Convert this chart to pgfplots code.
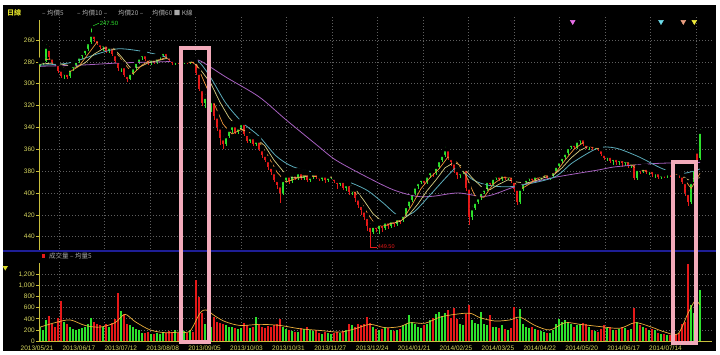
\documentclass[border=0pt]{standalone}
\usepackage{pgfplots}
\pgfplotsset{compat=1.18}
\usepackage{pgfplotstable}
\usepackage{fontspec}
\setmainfont{Liberation Sans}
\newfontfamily\cjk{Noto Sans CJK TC}

\definecolor{upred}{RGB}{230,25,25}
\definecolor{dngreen}{RGB}{45,225,45}
\definecolor{ma5}{RGB}{240,150,60}
\definecolor{ma10}{RGB}{215,205,130}
\definecolor{ma20}{RGB}{90,170,185}
\definecolor{ma60}{RGB}{165,95,190}
\definecolor{vma}{RGB}{235,175,60}
\definecolor{ylab}{RGB}{215,215,95}
\definecolor{yaxis}{RGB}{200,190,60}
\definecolor{gridc}{RGB}{95,95,95}
\definecolor{pinkbox}{RGB}{242,170,186}
\definecolor{sepblue}{RGB}{30,30,150}
\definecolor{legc}{RGB}{170,170,170}
\definecolor{trimag}{RGB}{230,110,230}
\definecolor{tricyan}{RGB}{110,220,235}
\definecolor{trisal}{RGB}{235,160,130}
\definecolor{triyel}{RGB}{240,235,60}
\definecolor{dayc}{RGB}{220,220,40}

\pgfplotstableread{
x o c lo hi v
40 283 280 278 285 250
43 281 279 276 283 200
46 279 266 262 280 380
49 268 276 264 278 450
52 276 280 274 282 300
55 280 282 278 284 250
58 282 288 280 290 420
61 287 293 285 295 720
64 292 290 287 296 350
67 290 294 288 296 300
70 293 286 284 295 260
73 286 283 281 288 220
76 283 279 277 285 200
79 279 275 273 281 210
82 275 272 270 277 230
85 272 268 265 274 250
88 268 262 259 270 300
91 262 255 247.5 264 420
94 255 259 253 262 350
97 259 263 257 265 300
100 263 266 261 268 280
103 266 264 262 270 260
106 264 270 262 272 300
109 270 266 264 272 260
112 266 273 264 275 330
115 273 279 271 281 400
118 279 286 277 288 870
121 286 284 280 289 540
124 284 292 282 294 480
127 292 296 290 298 300
130 296 290 288 297 280
133 290 285 283 292 250
136 285 280 278 287 220
139 280 276 274 282 200
142 276 273 271 278 150
145 273 277 271 279 140
148 277 281 275 283 160
151 281 277 275 283 130
154 277 280 275 282 120
157 280 276 274 282 140
160 276 274 272 278 130
163 274 271 269 276 150
166 271 275 269 277 140
169 275 278 273 280 180
172 278 281 276 283 170
175 281 279 277 283 200
178 279 280 277 282 150
181 280 281 278 283 130
184 281 279 277 282 180
187 279 280 277 282 150
190 280 278 276 282 190
193 278 280 275 282 160
196 280 290 277 292 1100
199 290 305 288 307 800
202 305 318 303 320 500
205 318 312 308 322 300
208 312 324 310 326 600
211 324 316 313 326 250
214 316 330 314 333 430
217 330 340 327 343 350
220 340 350 337 356 320
223 350 355 346 360 300
226 355 348 345 357 280
229 348 342 340 350 260
232 342 338 336 345 250
235 338 344 336 346 230
238 344 340 338 346 210
241 340 336 334 342 240
244 336 346 334 348 330
247 346 352 344 354 280
250 352 349 347 354 230
253 349 355 347 357 260
256 355 352 350 357 430
259 352 360 350 362 300
262 360 365 358 368 260
265 365 370 363 372 240
268 370 376 368 379 270
271 376 381 374 384 250
274 381 388 378 390 280
277 388 393 385 396 300
280 393 400 390 409 390
283 400 388 386 402 250
286 388 384 382 390 220
289 384 389 382 392 200
292 389 383 381 391 180
295 383 386 380 388 160
298 386 381 379 388 170
301 381 386 379 388 240
304 386 382 380 388 220
307 382 388 380 390 250
310 388 385 383 390 200
313 385 382 380 387 180
316 382 385 380 387 200
319 385 387 382 389 150
322 387 384 382 389 130
325 384 388 382 391 160
328 388 385 383 390 140
331 385 383 381 387 120
334 386 389 384 391 150
337 389 392 387 396 170
340 392 389 387 394 140
343 389 395 387 397 180
346 395 392 390 398 200
349 392 399 390 402 300
352 399 397 395 402 280
355 397 405 395 408 260
358 405 411 403 414 300
361 411 416 408 420 280
364 416 422 414 425 300
367 422 430 420 435 430
370 430 436 426 449.5 330
373 436 430 428 438 250
376 430 433 427 436 220
379 433 428 426 438 200
382 428 432 426 436 210
385 432 426 424 434 260
388 426 430 423 433 240
391 430 425 423 432 200
394 425 428 422 431 180
397 428 423 421 430 200
400 423 425 420 428 220
403 425 420 417 427 280
406 420 412 410 422 300
409 412 406 404 414 470
412 406 400 398 408 350
415 400 394 392 402 300
418 394 390 388 396 260
421 390 387 385 392 240
424 387 390 385 392 280
427 390 384 382 392 300
430 384 380 378 386 380
433 380 382 377 385 420
436 382 376 374 384 480
439 376 370 368 378 530
442 370 365 363 372 450
445 365 360 356 367 500
448 360 368 358 370 560
451 368 372 366 375 420
454 372 379 370 382 590
457 379 384 376 387 400
460 384 381 379 386 300
463 381 378 376 383 280
466 378 395 376 398 480
469 395 422 393 429 650
472 422 414 410 425 380
475 414 408 405 416 320
478 408 404 401 410 300
481 404 399 397 406 530
484 399 396 394 401 300
487 396 389 387 398 280
490 389 392 387 394 470
493 392 386 384 394 260
496 386 384 382 388 250
499 384 387 382 389 230
502 387 383 381 389 280
505 383 386 381 388 220
508 386 384 382 388 200
511 384 389 382 391 240
514 389 396 387 399 610
517 396 408 394 411 400
520 408 396 394 410 570
523 396 390 388 398 300
526 390 387 385 392 260
529 387 385 383 389 230
532 385 388 383 390 250
535 388 384 382 390 220
538 384 386 382 388 200
541 386 384 382 388 180
544 384 382 380 386 160
547 382 386 380 388 150
550 386 384 382 388 140
553 384 380 378 386 200
556 380 375 373 382 300
559 375 371 369 377 400
562 371 367 365 373 350
565 367 363 361 369 380
568 363 358 356 365 330
571 358 355 352 360 300
574 355 358 353 360 250
577 358 352 350 360 280
580 352 350 349 355 300
583 350 355 348 357 320
586 355 358 353 360 300
589 358 356 354 361 260
592 356 359 354 361 200
595 359 357 355 361 180
598 357 360 355 362 170
601 360 364 358 366 220
604 364 368 362 370 280
607 368 366 364 371 240
610 366 371 364 373 260
613 371 368 366 374 200
616 368 372 366 374 190
619 372 369 367 374 210
622 369 373 367 376 250
625 373 370 368 375 230
628 370 375 368 377 200
631 375 372 370 377 220
634 372 386 370 388 600
637 386 378 376 388 350
640 378 380 376 383 280
643 380 377 375 382 250
646 377 381 375 383 230
649 381 379 377 384 200
652 379 383 377 385 210
655 383 381 379 386 190
658 381 385 379 387 150
661 385 383 381 387 130
664 383 384 381 386 120
667 384 382 380 386 110
670 382 383 380 385 100
673 383 381 379 385 110
676 381 382 379 384 120
679 382 384 380 386 150
682 384 390 382 392 300
685 390 400 388 403 350
688 400 408 396 412 1390
691 408 390 388 410 650
694 390 378 376 392 500
697 362 372 358 374 550
700 368 344 340 370 920
}\kdata

\pgfplotsset{
  wick/.style 2 args={only marks, mark=none,
    x filter/.expression={#1 ? x : nan},
    error bars/.cd, y dir=plus, y explicit, error mark=none,
    error bar style={draw=#2, line width=0.7pt}},
  body/.style 2 args={only marks, mark=none,
    x filter/.expression={#1 ? x : nan},
    error bars/.cd, y dir=plus, y explicit, error mark=none,
    error bar style={draw=#2, line width=2pt}},
}

\begin{document}
\begin{tikzpicture}[x=1pt,y=1pt]
\fill[white] (0,0) rectangle (720,354);
\fill[black] (3,3) rectangle (716,349);
\draw[sepblue, line width=2pt] (3,103.5) -- (716,103.5);

% ---------- price panel ----------
\begin{axis}[
  at={(39pt,104pt)}, anchor=south west, scale only axis,
  width=673pt, height=233pt,
  xmin=39, xmax=712, ymin=238.95, ymax=452.2, y dir=reverse,
  axis line style={draw=none}, clip=false,
  xtick={59,104.5,...,696}, xticklabels={}, xtick style={draw=none},
  ytick={260,280,...,440},
  yticklabels={260,280,300,320,340,360,380,400,420,440},
  ytick pos=left, tick align=outside, major tick length=3pt,
  ytick style={yaxis, line width=0.6pt},
  yticklabel style={ylab, font=\fontsize{6.5}{7}\selectfont, inner sep=1pt},
  grid=major, major grid style={gridc, line width=0.6pt, dash pattern=on 0.8pt off 2.2pt},
]
\draw[yaxis, line width=0.8pt] (axis cs:39,241.7) -- (axis cs:39,452.2);

\addplot[wick={\thisrow{c}<\thisrow{o}}{dngreen}] table[x=x, y=lo, y error plus expr=\thisrow{hi}-\thisrow{lo}] {\kdata};
\addplot[wick={\thisrow{c}>=\thisrow{o}}{upred}] table[x=x, y=lo, y error plus expr=\thisrow{hi}-\thisrow{lo}] {\kdata};
\addplot[body={\thisrow{c}<\thisrow{o}}{dngreen}] table[x=x, y expr={min(\thisrow{o},\thisrow{c})}, y error plus expr={max(abs(\thisrow{c}-\thisrow{o}),0.8)}] {\kdata};
\addplot[body={\thisrow{c}>=\thisrow{o}}{upred}] table[x=x, y expr={min(\thisrow{o},\thisrow{c})}, y error plus expr={max(abs(\thisrow{c}-\thisrow{o}),0.8)}] {\kdata};

% moving averages
\addplot[ma60, line width=0.8pt, smooth] coordinates {(40,284) (80,283) (120,281) (160,280) (190,279) (200,279) (226,294) (259,312) (286,333) (318,357) (336,370) (366,385) (393,397) (416,403) (433,403) (458,400) (486,403) (516,394) (553,386) (598,379) (616,376) (656,373) (700,372)};
\addplot[ma20, line width=0.8pt, smooth] coordinates {(40,283) (69,281) (100,272) (119,268) (146,271) (178,278) (196,278) (209,292) (226,318) (243,336) (259,348) (276,366) (293,376) (318,382) (343,388) (366,397) (383,409) (399,421) (413,418) (429,403) (449,383) (458,377) (473,388) (489,393) (513,394) (553,386) (573,372) (598,359) (616,359) (639,367) (663,378) (683,382) (700,378)};
\addplot[ma10, line width=0.7pt] coordinates {(40,282) (55,281) (67,283) (76,285) (85,281) (94,273) (103,268) (112,266) (121,275) (130,285) (139,285) (148,281) (157,279) (166,277) (175,278) (184,279) (193,280) (202,289) (211,300) (220,317) (229,331) (238,340) (247,344) (256,350) (265,357) (274,370) (283,380) (292,386) (301,386) (310,384) (319,385) (328,385) (337,387) (346,390) (355,396) (364,407) (373,419) (382,426) (391,428) (400,426) (409,420) (418,410) (427,398) (436,388) (445,377) (454,372) (463,376) (472,386) (481,394) (490,397) (499,392) (508,388) (517,390) (526,391) (535,389) (544,386) (553,384) (562,377) (571,368) (580,361) (589,357) (598,358) (607,363) (616,367) (625,370) (634,374) (643,377) (652,379) (661,381) (670,382) (679,382) (688,388) (700,386)};
\addplot[ma5, line width=0.7pt] coordinates {(40,281) (46,278) (52,277) (61,284) (70,289) (79,284) (88,273) (97,262) (106,264) (115,270) (124,281) (133,291) (142,283) (151,278) (160,278) (169,275) (178,279) (187,280) (196,281) (205,300) (214,318) (223,337) (232,346) (241,342) (250,345) (259,353) (268,366) (277,381) (286,390) (295,387) (304,384) (313,385) (322,385) (331,385) (340,389) (349,393) (358,403) (367,418) (376,430) (385,430) (394,427) (403,424) (412,411) (421,396) (430,386) (439,378) (448,367) (457,372) (466,384) (475,403) (484,404) (493,392) (502,386) (511,386) (520,397) (529,392) (538,386) (547,384) (556,381) (565,370) (574,360) (583,354) (592,358) (601,360) (610,367) (619,370) (628,372) (637,378) (646,380) (655,381) (664,383) (673,382) (682,384) (691,396) (700,382)};

% signal triangles
\addplot[only marks, mark=triangle*, mark size=2.8pt, mark options={rotate=180, fill=trimag, draw=trimag}] coordinates {(572.7,243.3)};
\addplot[only marks, mark=triangle*, mark size=2.8pt, mark options={rotate=180, fill=tricyan, draw=tricyan}] coordinates {(661,243.3)};
\addplot[only marks, mark=triangle*, mark size=2.8pt, mark options={rotate=180, fill=trisal, draw=trisal}] coordinates {(683.3,243.3)};
\addplot[only marks, mark=triangle*, mark size=2.8pt, mark options={rotate=180, fill=triyel, draw=triyel}] coordinates {(694.3,243.3)};

% extreme labels
\draw[dngreen, line width=0.5pt] (axis cs:92,247.5) -- (axis cs:99,244.6)
  node[anchor=west, inner sep=0.5pt, font=\fontsize{6}{7}\selectfont, text=dngreen] {247.50};
\draw[upred, line width=0.5pt] (axis cs:370,449.5) -- (axis cs:377,449.5)
  node[anchor=west, inner sep=0.5pt, font=\fontsize{5.5}{6}\selectfont, text=upred] {449.50};
\end{axis}

% ---------- volume panel ----------
\begin{axis}[
  at={(39pt,13pt)}, anchor=south west, scale only axis,
  width=673pt, height=79pt,
  xmin=39, xmax=712, ymin=0, ymax=1423,
  axis line style={draw=none}, clip=false,
  xtick={59,104.5,...,696}, xticklabels={}, xtick style={draw=none},
  ytick={0,200,...,1200},
  yticklabels={0,200,400,600,800,{1,000},{1,200}},
  ytick pos=left, tick align=outside, major tick length=3pt,
  ytick style={yaxis, line width=0.6pt},
  yticklabel style={ylab, font=\fontsize{6.5}{7}\selectfont, inner sep=1pt},
  grid=major, major grid style={gridc, line width=0.6pt, dash pattern=on 0.8pt off 2.2pt},
]
\addplot[ycomb, draw=dngreen, line width=2pt, x filter/.expression={\thisrow{c}<\thisrow{o} ? x : nan}] table[x=x, y=v] {\kdata};
\addplot[ycomb, draw=upred, line width=2pt, x filter/.expression={\thisrow{c}>=\thisrow{o} ? x : nan}] table[x=x, y=v] {\kdata};
\addplot[vma, line width=0.7pt, smooth] coordinates {(40,250) (55,330) (70,380) (85,280) (100,250) (115,330) (125,480) (135,350) (150,200) (165,150) (180,160) (190,180) (200,500) (206,560) (215,450) (225,350) (240,280) (260,300) (280,280) (300,220) (320,190) (340,160) (355,220) (370,300) (385,240) (400,260) (410,330) (425,320) (440,430) (455,480) (470,500) (480,420) (495,360) (510,380) (520,430) (535,280) (550,200) (565,330) (580,300) (600,260) (620,230) (635,330) (650,260) (665,160) (678,130) (688,500) (695,720) (700,650)};
\draw[yaxis, line width=0.8pt] (axis cs:39,1400) -- (axis cs:39,0) -- (axis cs:712,0);
\node[anchor=base, text=ylab, font=\fontsize{6.5}{7}\selectfont, inner sep=0pt] at (axis cs:37,0) [yshift=-9.5pt] {2013/05/21};
\node[anchor=base, text=ylab, font=\fontsize{6.5}{7}\selectfont, inner sep=0pt] at (axis cs:78.9,0) [yshift=-9.5pt] {2013/06/17};
\node[anchor=base, text=ylab, font=\fontsize{6.5}{7}\selectfont, inner sep=0pt] at (axis cs:120.8,0) [yshift=-9.5pt] {2013/07/12};
\node[anchor=base, text=ylab, font=\fontsize{6.5}{7}\selectfont, inner sep=0pt] at (axis cs:162.7,0) [yshift=-9.5pt] {2013/08/08};
\node[anchor=base, text=ylab, font=\fontsize{6.5}{7}\selectfont, inner sep=0pt] at (axis cs:204.6,0) [yshift=-9.5pt] {2013/09/05};
\node[anchor=base, text=ylab, font=\fontsize{6.5}{7}\selectfont, inner sep=0pt] at (axis cs:246.5,0) [yshift=-9.5pt] {2013/10/03};
\node[anchor=base, text=ylab, font=\fontsize{6.5}{7}\selectfont, inner sep=0pt] at (axis cs:288.4,0) [yshift=-9.5pt] {2013/10/31};
\node[anchor=base, text=ylab, font=\fontsize{6.5}{7}\selectfont, inner sep=0pt] at (axis cs:330.3,0) [yshift=-9.5pt] {2013/11/27};
\node[anchor=base, text=ylab, font=\fontsize{6.5}{7}\selectfont, inner sep=0pt] at (axis cs:372.2,0) [yshift=-9.5pt] {2013/12/24};
\node[anchor=base, text=ylab, font=\fontsize{6.5}{7}\selectfont, inner sep=0pt] at (axis cs:414.1,0) [yshift=-9.5pt] {2014/01/21};
\node[anchor=base, text=ylab, font=\fontsize{6.5}{7}\selectfont, inner sep=0pt] at (axis cs:456,0) [yshift=-9.5pt] {2014/02/25};
\node[anchor=base, text=ylab, font=\fontsize{6.5}{7}\selectfont, inner sep=0pt] at (axis cs:497.9,0) [yshift=-9.5pt] {2014/03/25};
\node[anchor=base, text=ylab, font=\fontsize{6.5}{7}\selectfont, inner sep=0pt] at (axis cs:539.8,0) [yshift=-9.5pt] {2014/04/22};
\node[anchor=base, text=ylab, font=\fontsize{6.5}{7}\selectfont, inner sep=0pt] at (axis cs:581.7,0) [yshift=-9.5pt] {2014/05/20};
\node[anchor=base, text=ylab, font=\fontsize{6.5}{7}\selectfont, inner sep=0pt] at (axis cs:623.6,0) [yshift=-9.5pt] {2014/06/17};
\node[anchor=base, text=ylab, font=\fontsize{6.5}{7}\selectfont, inner sep=0pt] at (axis cs:665.5,0) [yshift=-9.5pt] {2014/07/14};
\end{axis}

% legends and labels
\node[anchor=west, inner sep=0pt, text=dayc, font=\cjk\fontsize{7}{8}\selectfont\bfseries] at (7,341) {日線};
\node[anchor=west, inner sep=0pt, text=legc, font=\cjk\fontsize{6.5}{7}\selectfont] at (42,341) {– 均價5};
\node[anchor=west, inner sep=0pt, text=legc, font=\cjk\fontsize{6.5}{7}\selectfont] at (77,341) {– 均價10 –};
\node[anchor=west, inner sep=0pt, text=legc, font=\cjk\fontsize{6.5}{7}\selectfont] at (118,341) {均價20 –};
\node[anchor=west, inner sep=0pt, text=legc, font=\cjk\fontsize{6.5}{7}\selectfont] at (152,341) {均價60 ■ K線};
\fill[upred] (41.5,96.5) rectangle (45,100);
\node[anchor=west, inner sep=0pt, text=legc, font=\cjk\fontsize{6.5}{7}\selectfont] at (49,98.3) {成交量 – 均量5};
\fill[dayc] (2.5,88) -- (8,88) -- (5.25,83.5) -- cycle;

% highlight boxes
\draw[pinkbox, line width=4pt] (180.7,306.3) rectangle (209.3,12.5);
\draw[pinkbox, line width=4pt] (673,192) rectangle (696.3,11.5);
\end{tikzpicture}
\end{document}
